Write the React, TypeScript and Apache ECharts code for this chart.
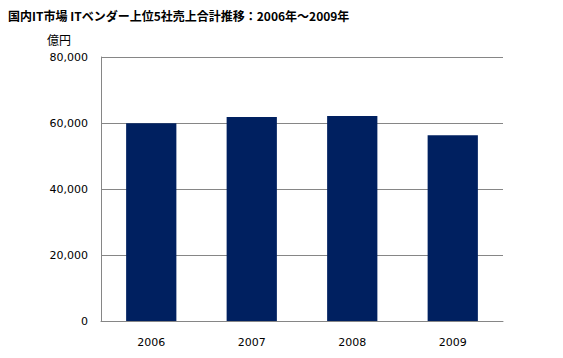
import React, { useEffect, useRef } from "react";
import * as echarts from "echarts";

const title = "国内IT市場 ITベンダー上位5社売上合計推移：2006年～2009年";
const unitLabel = "億円";
const categories = ["2006", "2007", "2008", "2009"];
const revenue = [59900, 61800, 62100, 56300];

export default function App() {
  const ref = useRef<HTMLDivElement>(null);
  useEffect(() => {
    if (!ref.current) return;
    const chart = echarts.init(ref.current, null, { renderer: "svg" });
    chart.setOption({
      animation: false,
      backgroundColor: "#ffffff",
      grid: { left: 101, top: 57, right: 60, bottom: 37, containLabel: false },
      graphic: [
        {
          type: "text",
          left: 8,
          top: 9,
          style: {
            text: title,
            font: "bold 12px 'Noto Sans CJK JP', sans-serif",
            fill: "#000",
          },
        },
        {
          type: "text",
          left: 47,
          top: 33,
          style: {
            text: unitLabel,
            font: "12px 'Noto Sans CJK JP', sans-serif",
            fill: "#000",
          },
        },
      ],
      xAxis: {
        type: "category",
        data: categories,
        axisLine: { lineStyle: { color: "#868686", width: 1 } },
        axisTick: { inside: true, length: 4, lineStyle: { color: "#868686" } },
        axisLabel: {
          margin: 16,
          color: "#000",
          fontSize: 11,
          fontFamily: "DejaVu Sans",
        },
      },
      yAxis: {
        type: "value",
        min: 0,
        max: 80000,
        interval: 20000,
        axisLine: { show: true, lineStyle: { color: "#868686", width: 1 } },
        axisTick: { show: false },
        splitLine: { lineStyle: { color: "#868686", width: 1 } },
        axisLabel: {
          margin: 13,
          color: "#000",
          fontSize: 11,
          fontFamily: "DejaVu Sans",
          formatter: (v: number) => v.toLocaleString("en-US"),
        },
      },
      series: [
        {
          type: "bar",
          data: revenue,
          barWidth: "50%",
          itemStyle: { color: "#002060" },
        },
      ],
    });
    return () => chart.dispose();
  }, []);
  return <div ref={ref} style={{ width: 563, height: 358, margin: -8 }} />;
}
